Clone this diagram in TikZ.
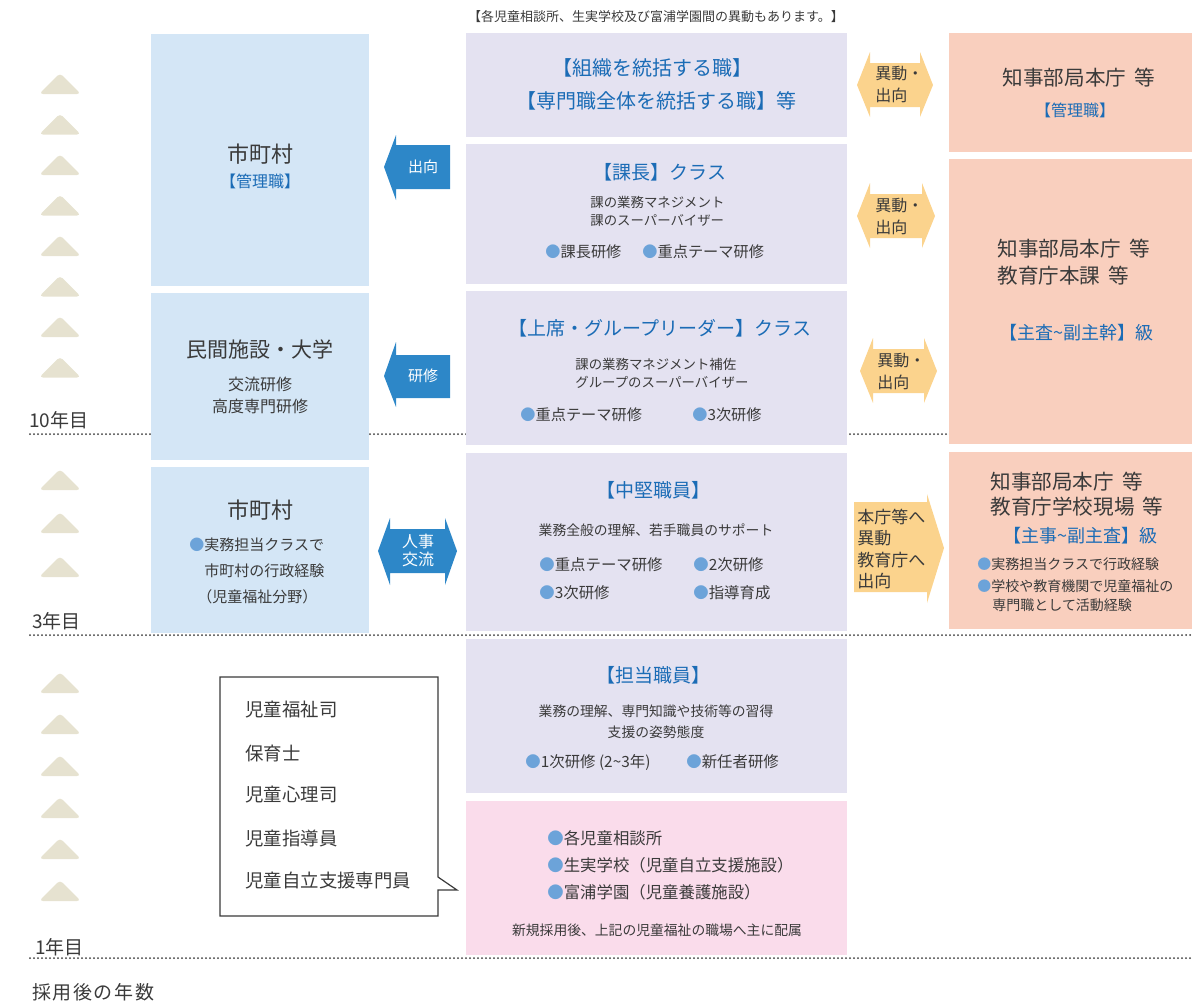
\documentclass[tikz,border=0pt]{standalone}
\usepackage{fontspec}
\setmainfont{Noto Sans CJK JP}
\usetikzlibrary{positioning}

\definecolor{lavbox}{HTML}{E4E2F1}
\definecolor{bluebox}{HTML}{D4E6F6}
\definecolor{peachbox}{HTML}{F9CFBE}
\definecolor{pinkbox}{HTML}{FADCEB}
\definecolor{orangearr}{HTML}{FBD38D}
\definecolor{bluearr}{HTML}{2D87C8}
\definecolor{stepcol}{HTML}{E6E2D0}
\definecolor{headblue}{HTML}{1B6CB6}
\definecolor{dotblue}{HTML}{6CA3D9}
\definecolor{txtgray}{HTML}{3A3A3A}

\newcommand{\setfs}[2]{\fontsize{#1pt}{#2pt}\selectfont}
\newcommand{\dotb}{\textcolor{dotblue}{●}}

\tikzset{
  yearline/.style={draw=txtgray, line width=1pt, dash pattern=on 0pt off 2pt, line cap=round},
  stepmark/.style={fill=stepcol, rounded corners=2pt},
  head/.style={text=headblue},
  arrlabel/.style={text=white, align=center},
}

\begin{document}
\begin{tikzpicture}[x=0.5pt, y=-0.5pt, every node/.style={inner sep=0pt, text=txtgray}]
\useasboundingbox (0,0) rectangle (1192,1003);

% year lines
\draw[yearline] (30,434) -- (949,434);
\draw[yearline] (30,635) -- (1192,635);
\draw[yearline] (30,958) -- (1192,958);

% steps
\foreach \t in {73,113.5,154,194.5,235,275.5,316,356.5,469,512,556,672,713,755,797,838,880}
  \fill[stepmark] (39,\t+21) -- (60,\t) -- (81,\t+21) -- cycle;

\node[anchor=west, font=\setfs{9.5}{10}] (y10) at (29,420) {10年目};
\node[anchor=west, font=\setfs{9.5}{10}] (y3) at (32,621) {3年目};
\node[anchor=west, font=\setfs{9.5}{10}] (y1) at (35,947) {1年目};
\node[anchor=west, font=\setfs{9.5}{10}] (years) at (32,992) {\addfontfeature{LetterSpace=8}採用後の年数};

% left column
\fill[bluebox] (151,34) rectangle (369,286);
\fill[bluebox] (151,293) rectangle (369,460);
\fill[bluebox] (151,467) rectangle (369,633);

\node[font=\setfs{11}{12}] (l1a) at (260,154) {市町村};
\node[head, font=\setfs{8}{9}] (l1b) at (260,181) {【管理職】};
\node[font=\setfs{10.5}{12}] (l2a) at (260,349) {民間施設・大学};
\node[align=center, font=\setfs{8}{11}] (l2b) at (260,395) {交流研修\\高度専門研修};
\node[font=\setfs{11}{12}] (l3a) at (260,510) {市町村};
\node[anchor=west, font=\setfs{7.5}{9}] (l3b) at (189,545) {\dotb 実務担当クラスで};
\node[anchor=west, font=\setfs{7.5}{9}] (l3c) at (204,571) {市町村の行政経験};
\node[anchor=west, font=\setfs{7.5}{9}] (l3d) at (197,597) {（児童福祉分野）};

% blue arrows
\fill[bluearr] (450,145) -- (396,145) -- (396,135) -- (384,167) -- (396,200) -- (396,189) -- (450,189) -- cycle;
\node[arrlabel, font=\setfs{7.5}{9}] (a1) at (423,167) {出向};
\fill[bluearr] (450,355) -- (396,355) -- (396,342) -- (384,376) -- (396,407) -- (396,398) -- (450,398) -- cycle;
\node[arrlabel, font=\setfs{7.5}{9}] (a2) at (423,376) {研修};
\fill[bluearr] (390,529) -- (445,529) -- (445,518) -- (457,551) -- (445,585) -- (445,573) -- (390,573) -- (390,585) -- (378,551) -- (390,518) -- cycle;
\node[arrlabel, font=\setfs{8}{9}] (a3) at (418,550) {人事\\交流};

% middle column
\node[font=\setfs{6.5}{8}] (note) at (656,17) {【各児童相談所、生実学校及び富浦学園間の異動もあります。】};
\fill[lavbox] (466,33) rectangle (847,137);
\fill[lavbox] (466,144) rectangle (847,284);
\fill[lavbox] (466,291) rectangle (847,445);
\fill[lavbox] (466,453) rectangle (847,631);
\fill[lavbox] (466,639) rectangle (847,793);
\fill[pinkbox] (466,801) rectangle (847,955);

\node[head, font=\setfs{10}{12}] (m1a) at (652,68) {【組織を統括する職】};
\node[head, font=\setfs{10}{12}] (m1b) at (656,101) {【専門職全体を統括する職】等};

\node[head, font=\setfs{9.5}{11}] (m2a) at (660,172) {【課長】クラス};
\node[anchor=west, align=left, font=\setfs{6.7}{9}] (m2b) at (590,211) {課の業務マネジメント\\課のスーパーバイザー};
\node[anchor=west, font=\setfs{7.6}{9}] (m2c) at (545,252) {\dotb 課長研修};
\node[anchor=west, font=\setfs{7.6}{9}] (m2d) at (642,252) {\dotb 重点テーマ研修};

\node[head, font=\setfs{9.5}{11}] (m3a) at (660,328) {【上席・グループリーダー】クラス};
\node[anchor=west, align=left, font=\setfs{6.7}{9}] (m3b) at (575,373) {課の業務マネジメント補佐\\グループのスーパーバイザー};
\node[anchor=west, font=\setfs{7.6}{9}] (m3c) at (520,415) {\dotb 重点テーマ研修};
\node[anchor=west, font=\setfs{7.6}{9}] (m3d) at (692,415) {\dotb 3次研修};

\node[head, font=\setfs{9.5}{11}] (m4a) at (653,490) {【中堅職員】};
\node[font=\setfs{6.9}{9}] (m4b) at (656,530) {業務全般の理解、若手職員のサポート};
\node[anchor=west, font=\setfs{7.7}{9}] (m4c) at (539,565) {\dotb 重点テーマ研修};
\node[anchor=west, font=\setfs{7.7}{9}] (m4d) at (693,565) {\dotb 2次研修};
\node[anchor=west, font=\setfs{7.7}{9}] (m4e) at (539,593) {\dotb 3次研修};
\node[anchor=west, font=\setfs{7.7}{9}] (m4f) at (693,593) {\dotb 指導育成};

\node[head, font=\setfs{9.5}{11}] (m5a) at (653,675) {【担当職員】};
\node[align=center, font=\setfs{6.9}{10.5}] (m5b) at (656,722) {業務の理解、専門知識や技術等の習得\\支援の姿勢態度};
\node[anchor=west, font=\setfs{7.7}{9}] (m5c) at (525,762) {\dotb 1次研修 (2\textasciitilde 3年)};
\node[anchor=west, font=\setfs{7.7}{9}] (m5d) at (686,762) {\dotb 新任者研修};

\node[anchor=west, font=\setfs{8.2}{9}] (m6a) at (547,838) {\dotb 各児童相談所};
\node[anchor=west, font=\setfs{8.2}{9}] (m6b) at (547,865) {\dotb 生実学校（児童自立支援施設）};
\node[anchor=west, font=\setfs{8.2}{9}] (m6c) at (547,892) {\dotb 富浦学園（児童養護施設）};
\node[font=\setfs{6.9}{9}] (m6d) at (657,930) {新規採用後、上記の児童福祉の職場へ主に配属};

% callout
\draw[txtgray, line width=0.6pt, fill=white] (220,677) -- (438,677) -- (438,877) -- (457,890) -- (438,890) -- (438,916) -- (220,916) -- cycle;
\node[anchor=west, font=\setfs{9.2}{10}] (c1) at (245,710) {児童福祉司};
\node[anchor=west, font=\setfs{9.2}{10}] (c2) at (245,753) {保育士};
\node[anchor=west, font=\setfs{9.2}{10}] (c3) at (245,795) {児童心理司};
\node[anchor=west, font=\setfs{9.2}{10}] (c4) at (245,839) {児童指導員};
\node[anchor=west, font=\setfs{9.2}{10}] (c5) at (245,881) {児童自立支援専門員};

% orange arrows
\fill[orangearr] (870,63) -- (920,63) -- (920,52) -- (933,85) -- (920,117) -- (920,107) -- (870,107) -- (870,117) -- (857,85) -- (870,52) -- cycle;
\node[anchor=west, align=left, font=\setfs{8}{11}] (o1) at (875,84) {異動・\\出向};
\fill[orangearr] (870,194) -- (922,194) -- (922,183) -- (935,216) -- (922,248) -- (922,238) -- (870,238) -- (870,248) -- (857,216) -- (870,183) -- cycle;
\node[anchor=west, align=left, font=\setfs{8}{11}] (o2) at (875,216) {異動・\\出向};
\fill[orangearr] (873,349) -- (924,349) -- (924,338) -- (937,371) -- (924,403) -- (924,393) -- (873,393) -- (873,403) -- (860,371) -- (873,338) -- cycle;
\node[anchor=west, align=left, font=\setfs{8}{11}] (o3) at (877,371) {異動・\\出向};
\fill[orangearr] (854,502) -- (927,502) -- (927,494) -- (944,548) -- (927,603) -- (927,592) -- (854,592) -- cycle;
\node[anchor=west, align=left, font=\setfs{8.5}{10.8}] (o4) at (857,549) {本庁等へ\\異動\\教育庁へ\\出向};

% right column
\fill[peachbox] (949,33) rectangle (1192,152);
\fill[peachbox] (949,159) rectangle (1192,444);
\fill[peachbox] (949,452) rectangle (1192,629);

\node[font=\setfs{10.3}{12}] (r1a) at (1079,78) {知事部局本庁\hspace{0.4em}等};
\node[head, font=\setfs{8}{9}] (r1b) at (1075,110) {【管理職】};
\node[anchor=west, align=left, font=\setfs{10.3}{13.5}] (r2a) at (997,262) {知事部局本庁\hspace{0.4em}等\\教育庁本課\hspace{0.4em}等};
\node[head, font=\setfs{9}{10}] (r2b) at (1076,333) {【主査\textasciitilde 副主幹】級};
\node[anchor=west, align=left, font=\setfs{10.3}{12.5}] (r3a) at (990,494) {知事部局本庁\hspace{0.4em}等\\教育庁学校現場\hspace{0.4em}等};
\node[head, font=\setfs{9}{10}] (r3b) at (1080,536) {【主事\textasciitilde 副主査】級};
\node[anchor=west, font=\setfs{7}{9}] (r3c) at (977,564) {\dotb 実務担当クラスで行政経験};
\node[anchor=west, font=\setfs{7}{9}] (r3d) at (977,586) {\dotb 学校や教育機関で児童福祉の};
\node[anchor=west, font=\setfs{7}{9}] (r3e) at (992,605) {専門職として活動経験};
\end{tikzpicture}
\end{document}
